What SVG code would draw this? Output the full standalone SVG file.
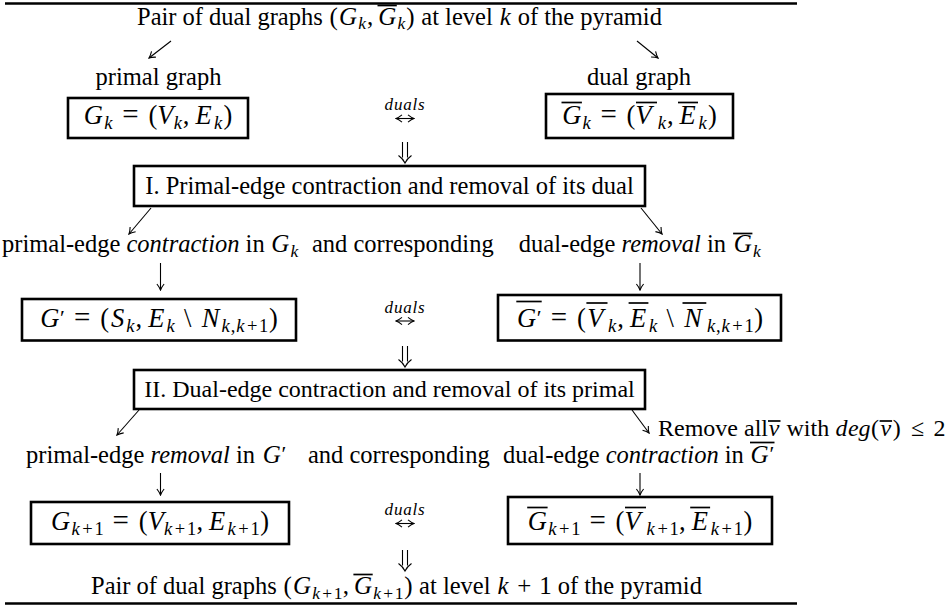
<svg xmlns="http://www.w3.org/2000/svg" width="951" height="608" viewBox="0 0 951 608">
<style>
text{font-family:"Liberation Serif","Times New Roman",serif;fill:#000}
.tx{font-size:24.5px}
.t24{font-size:24px}
.it{font-style:italic}
.m{font-size:26.5px;font-style:italic;text-anchor:middle}
.mi{font-size:25px;font-style:italic;text-anchor:middle}
.u{font-style:normal}
.eq{font-style:normal;font-size:29px}
.s{font-size:18.5px}
.si{font-size:17.5px}
.pr{font-style:normal;font-size:22px}
.c{text-anchor:middle}
.box{fill:none;stroke:#000;stroke-width:2.6}
.ov{stroke:#000;stroke-width:1.7}
.rule{stroke:#000;stroke-width:2.6}
.ar{fill:none;stroke:#000;stroke-width:1.1}
.du{font-size:17px;font-style:italic;letter-spacing:0.8px;text-anchor:middle}
</style>
<defs>
<marker id="ah" viewBox="-8 -5 9 10" refX="0" refY="0" markerWidth="9" markerHeight="10" markerUnits="userSpaceOnUse" orient="auto-start-reverse">
<path d="M-6,-3.6 Q-2.5,-0.8 0,0 Q-2.5,0.8 -6,3.6" fill="none" stroke="#000" stroke-width="1.1"/>
</marker>
</defs>

<g id="rules">
<line class="rule" x1="5" y1="3.5" x2="797" y2="3.5"/>
<line class="rule" x1="5" y1="603.5" x2="797" y2="603.5"/>
</g>

<g id="title-top">
<text class="tx" x="137" y="25">Pair of dual graphs</text>
<text class="mi"><tspan class="u" x="333.7" y="25">(</tspan><tspan x="348" y="25">G</tspan><tspan class="si" x="362.2" y="29">k</tspan><tspan class="u" x="370" y="25">,</tspan><tspan x="387.2" y="25">G</tspan><tspan class="si" x="401.3" y="29">k</tspan><tspan class="u" x="410.5" y="25">)</tspan></text>
<line class="ov" x1="377.5" y1="5.5" x2="396.8" y2="5.5"/>
<text class="tx" x="421.3" y="25">at level</text>
<text class="mi" x="505.2" y="25">k</text>
<text class="tx" x="517.7" y="25">of the pyramid</text>
</g>

<g id="label-primal"><text class="tx c" x="158.5" y="85">primal graph</text></g>
<g id="label-dual"><text class="tx c" x="639" y="85">dual graph</text></g>

<g id="box-Gk">
<rect class="box" x="68" y="98" width="180" height="40"/>
<text class="m"><tspan x="93.4" y="124">G</tspan><tspan class="s" x="108.4" y="128.5">k</tspan><tspan class="eq" x="130.4" y="124">=</tspan><tspan class="u" x="152.8" y="124">(</tspan><tspan x="165.4" y="124">V</tspan><tspan class="s" x="177.8" y="128.5">k</tspan><tspan class="u" x="186.1" y="124">,</tspan><tspan x="203.6" y="124">E</tspan><tspan class="s" x="218" y="128.5">k</tspan><tspan class="u" x="227.8" y="124">)</tspan></text>
</g>

<g id="box-Gk-dual">
<rect class="box" x="546" y="94" width="187" height="44"/>
<text class="m"><tspan x="571.7" y="124">G</tspan><tspan class="s" x="586.6" y="128.5">k</tspan><tspan class="eq" x="608.7" y="124">=</tspan><tspan class="u" x="631" y="124">(</tspan><tspan x="643.7" y="124">V</tspan><tspan class="s" x="661.8" y="128.5">k</tspan><tspan class="u" x="670.2" y="124">,</tspan><tspan x="687.7" y="124">E</tspan><tspan class="s" x="702.7" y="128.5">k</tspan><tspan class="u" x="712.5" y="124">)</tspan></text>
<line class="ov" x1="561.5" y1="102.5" x2="581.9" y2="102.5"/>
<line class="ov" x1="636" y1="102.5" x2="657" y2="102.5"/>
<line class="ov" x1="678" y1="102.5" x2="698" y2="102.5"/>
</g>

<g id="box-I">
<rect class="box" x="134" y="166" width="511" height="40"/>
<text class="tx c" x="389.5" y="194">I. Primal-edge contraction and removal of its dual</text>
</g>

<g id="label-contraction">
<text class="tx" x="2" y="252">primal-edge <tspan class="it">contraction</tspan> in</text>
<text class="mi"><tspan x="280.4" y="252">G</tspan><tspan class="si" x="294.5" y="256.5">k</tspan></text>
<text class="tx" x="312" y="252">and corresponding</text>
</g>

<g id="label-removal">
<text class="tx" x="518.8" y="252">dual-edge <tspan class="it">removal</tspan> in</text>
<text class="mi"><tspan x="742.8" y="252">G</tspan><tspan class="si" x="756.9" y="256.5">k</tspan></text>
<line class="ov" x1="733.1" y1="233.5" x2="752.4" y2="233.5"/>
</g>

<g id="box-Gprime">
<rect class="box" x="22" y="299" width="274" height="41.5"/>
<text class="m"><tspan x="49.8" y="327">G</tspan><tspan class="pr" x="62.5" y="325">′</tspan><tspan class="eq" x="82.3" y="327">=</tspan><tspan class="u" x="104.7" y="327">(</tspan><tspan x="117.7" y="327">S</tspan><tspan class="s" x="130.4" y="331.5">k</tspan><tspan class="u" x="138.8" y="327">,</tspan><tspan x="156.3" y="327">E</tspan><tspan class="s" x="170.7" y="331.5">k</tspan><tspan class="u" x="187.7" y="327">\</tspan><tspan x="210.5" y="327">N</tspan><tspan class="s" x="225.7" y="331.5">k</tspan><tspan class="s u" x="233" y="331.5">,</tspan><tspan class="s" x="240.3" y="331.5">k</tspan><tspan class="s u" x="252.1" y="331.5">+</tspan><tspan class="s u" x="263.7" y="331.5">1</tspan><tspan class="u" x="273.3" y="327">)</tspan></text>
</g>

<g id="box-Gprime-dual">
<rect class="box" x="498" y="295" width="283" height="45.5"/>
<text class="m"><tspan x="526.5" y="327">G</tspan><tspan class="pr" x="539.2" y="325">′</tspan><tspan class="eq" x="559" y="327">=</tspan><tspan class="u" x="581.4" y="327">(</tspan><tspan x="595.3" y="327">V</tspan><tspan class="s" x="612.2" y="331.5">k</tspan><tspan class="u" x="620.6" y="327">,</tspan><tspan x="638.1" y="327">E</tspan><tspan class="s" x="653.2" y="331.5">k</tspan><tspan class="u" x="670.3" y="327">\</tspan><tspan x="693" y="327">N</tspan><tspan class="s" x="711" y="331.5">k</tspan><tspan class="s u" x="718.3" y="331.5">,</tspan><tspan class="s" x="725.6" y="331.5">k</tspan><tspan class="s u" x="737.5" y="331.5">+</tspan><tspan class="s u" x="749.1" y="331.5">1</tspan><tspan class="u" x="758.7" y="327">)</tspan></text>
<line class="ov" x1="516.3" y1="301.5" x2="541.7" y2="301.5"/>
<line class="ov" x1="586.4" y1="303" x2="607.5" y2="303"/>
<line class="ov" x1="628.6" y1="303" x2="648.4" y2="303"/>
<line class="ov" x1="682.5" y1="303" x2="706.3" y2="303"/>
</g>

<g id="box-II">
<rect class="box" x="134" y="370" width="511" height="39"/>
<text class="t24 c" x="389.5" y="397">II. Dual-edge contraction and removal of its primal</text>
</g>

<g id="note-remove">
<text class="t24" x="658" y="436">Remove all</text>
<text class="t24 it c" x="774.2" y="436">v</text>
<line class="ov" x1="768" y1="421" x2="780.5" y2="421"/>
<text class="t24" x="786.5" y="436">with</text>
<text class="t24 it"><tspan class="c" x="841.4" y="436">d</tspan><tspan class="c" x="853.3" y="436">e</tspan><tspan class="c" x="864.6" y="436">g</tspan></text>
<text class="t24 c" x="875" y="436">(</text>
<text class="t24 it c" x="885.9" y="436">v</text>
<line class="ov" x1="879.6" y1="421" x2="892.1" y2="421"/>
<text class="t24 c" x="896.8" y="436">)</text>
<text class="t24 c" x="917.5" y="436">≤</text>
<text class="t24 c" x="939.5" y="436">2</text>
</g>

<g id="label-primal-removal">
<text class="tx" x="26" y="462.5">primal-edge <tspan class="it">removal</tspan> in</text>
<text class="mi"><tspan x="271.8" y="462.5">G</tspan><tspan class="pr" x="284" y="460.5">′</tspan></text>
</g>
<g id="label-corresponding"><text class="tx" x="308" y="462.5">and corresponding</text></g>
<g id="label-dual-contraction">
<text class="tx" x="503" y="462.5">dual-edge <tspan class="it">contraction</tspan> in</text>
<text class="mi"><tspan x="759.6" y="462.5">G</tspan><tspan class="pr" x="771.9" y="460.5">′</tspan></text>
<line class="ov" x1="750" y1="442.5" x2="774.5" y2="442.5"/>
</g>

<g id="box-Gk1">
<rect class="box" x="31" y="502" width="258" height="42"/>
<text class="m"><tspan x="60.6" y="530">G</tspan><tspan class="s" x="75.5" y="534.5">k</tspan><tspan class="s u" x="87.4" y="534.5">+</tspan><tspan class="s u" x="99" y="534.5">1</tspan><tspan class="eq" x="120.8" y="530">=</tspan><tspan class="u" x="143.2" y="530">(</tspan><tspan x="155.8" y="530">V</tspan><tspan class="s" x="168.1" y="534.5">k</tspan><tspan class="s u" x="180" y="534.5">+</tspan><tspan class="s u" x="191.6" y="534.5">1</tspan><tspan class="u" x="199.7" y="530">,</tspan><tspan x="217.2" y="530">E</tspan><tspan class="s" x="231.5" y="534.5">k</tspan><tspan class="s u" x="243.4" y="534.5">+</tspan><tspan class="s u" x="255" y="534.5">1</tspan><tspan class="u" x="264.6" y="530">)</tspan></text>
</g>

<g id="box-Gk1-dual">
<rect class="box" x="508" y="497" width="264" height="47"/>
<text class="m"><tspan x="537.4" y="530">G</tspan><tspan class="s" x="552.3" y="534.5">k</tspan><tspan class="s u" x="564.2" y="534.5">+</tspan><tspan class="s u" x="575.8" y="534.5">1</tspan><tspan class="eq" x="597.6" y="530">=</tspan><tspan class="u" x="620" y="530">(</tspan><tspan x="632.6" y="530">V</tspan><tspan class="s" x="650.7" y="534.5">k</tspan><tspan class="s u" x="662.6" y="534.5">+</tspan><tspan class="s u" x="674.2" y="534.5">1</tspan><tspan class="u" x="682.3" y="530">,</tspan><tspan x="699.8" y="530">E</tspan><tspan class="s" x="714.8" y="534.5">k</tspan><tspan class="s u" x="726.7" y="534.5">+</tspan><tspan class="s u" x="738.3" y="534.5">1</tspan><tspan class="u" x="747.9" y="530">)</tspan></text>
<line class="ov" x1="527.2" y1="507.5" x2="547.6" y2="507.5"/>
<line class="ov" x1="625" y1="507.5" x2="646" y2="507.5"/>
<line class="ov" x1="690.2" y1="507.5" x2="710.1" y2="507.5"/>
</g>

<g id="title-bottom">
<text class="tx" x="91" y="594">Pair of dual graphs</text>
<text class="mi"><tspan class="u" x="287.6" y="594">(</tspan><tspan x="302" y="594">G</tspan><tspan class="si" x="316.2" y="598.5">k</tspan><tspan class="si u" x="327.3" y="598.5">+</tspan><tspan class="si u" x="338.2" y="598.5">1</tspan><tspan class="u" x="345.9" y="594">,</tspan><tspan x="363" y="594">G</tspan><tspan class="si" x="377.2" y="598.5">k</tspan><tspan class="si u" x="388.3" y="598.5">+</tspan><tspan class="si u" x="399.2" y="598.5">1</tspan><tspan class="u" x="408.3" y="594">)</tspan></text>
<line class="ov" x1="353.4" y1="574.5" x2="372.7" y2="574.5"/>
<text class="tx" x="419.1" y="594">at level</text>
<text class="mi"><tspan x="503" y="594">k</tspan><tspan class="u" x="524.3" y="594">+</tspan><tspan class="u" x="545.4" y="594">1</tspan></text>
<text class="tx" x="557.7" y="594">of the pyramid</text>
</g>

<g id="connectors">
<path class="ar" d="M171,41 L149,58" marker-end="url(#ah)"/>
<path class="ar" d="M637,41 L658,58" marker-end="url(#ah)"/>
<path class="ar" d="M396,118.5 H414" marker-start="url(#ah)" marker-end="url(#ah)"/>
<text class="du" x="405" y="110">duals</text>
<path class="ar" d="M402.5,142 V157.5 M407.5,142 V157.5 M398.5,155.5 Q403,158.8 405,163 Q407,158.8 411.5,155.5"/>
<path class="ar" d="M151,208 L129,234" marker-end="url(#ah)"/>
<path class="ar" d="M641,208 L662,234" marker-end="url(#ah)"/>
<path class="ar" d="M160.5,263 V290" marker-end="url(#ah)"/>
<path class="ar" d="M640,263 V290" marker-end="url(#ah)"/>
<path class="ar" d="M396,321 H414" marker-start="url(#ah)" marker-end="url(#ah)"/>
<text class="du" x="405" y="312.5">duals</text>
<path class="ar" d="M402.5,346 V361.5 M407.5,346 V361.5 M398.5,359.5 Q403,362.8 405,367 Q407,362.8 411.5,359.5"/>
<path class="ar" d="M139,410 L117,435" marker-end="url(#ah)"/>
<path class="ar" d="M632,410 L649,433" marker-end="url(#ah)"/>
<path class="ar" d="M160.5,473 V495" marker-end="url(#ah)"/>
<path class="ar" d="M640,473 V495" marker-end="url(#ah)"/>
<path class="ar" d="M396,523.5 H414" marker-start="url(#ah)" marker-end="url(#ah)"/>
<text class="du" x="405" y="515">duals</text>
<path class="ar" d="M402.5,550 V565.5 M407.5,550 V565.5 M398.5,563.5 Q403,566.8 405,571 Q407,566.8 411.5,563.5"/>
</g>
</svg>
